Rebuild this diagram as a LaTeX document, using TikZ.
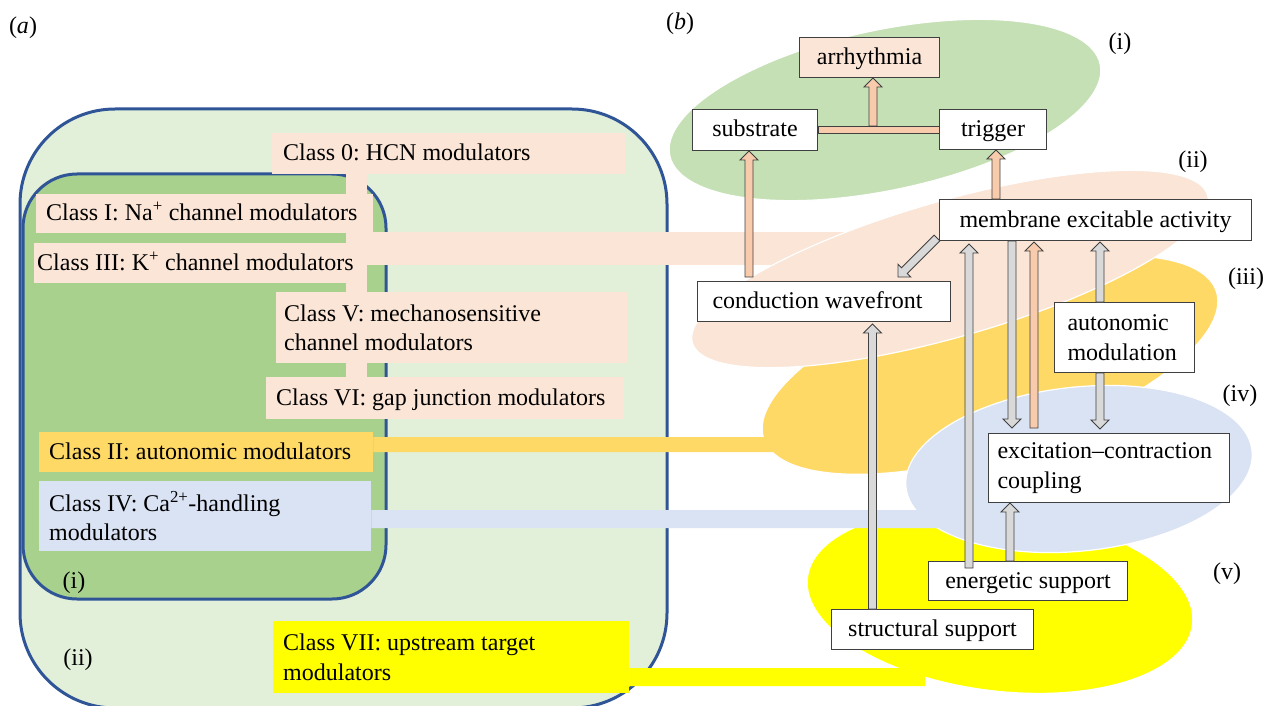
\documentclass[tikz,border=0pt]{standalone}
\usepackage{fontspec}
\setmainfont{Liberation Serif}
\usetikzlibrary{calc,backgrounds}
\frenchspacing

\definecolor{edgeblue}{HTML}{2F5597}
\definecolor{outergreen}{HTML}{E2F0D9}
\definecolor{innergreen}{HTML}{A9D18E}
\definecolor{boxpeach}{HTML}{FBE5D6}
\definecolor{boxgold}{HTML}{FFD966}
\definecolor{boxblue}{HTML}{DAE3F3}
\definecolor{boxyellow}{HTML}{FFFF00}
\definecolor{ellgreen}{HTML}{C5E0B4}
\definecolor{arrowpeach}{HTML}{F8CBAD}
\definecolor{arrowgray}{HTML}{D9D9D9}
\definecolor{edgegray}{HTML}{404040}

\tikzset{
  classbox/.style={anchor=north west, inner ysep=0pt, inner xsep=10pt, align=flush left},
  procbox/.style={anchor=north west, draw=edgegray, line width=1pt, fill=white, inner sep=0pt},
  oneline/.style={text height=18pt, text depth=4pt},
  region/.style={draw=white, line width=1.2pt},
  grayarrow/.style={fill=arrowgray, draw=edgegray, line width=0.9pt},
  peacharrow/.style={fill=arrowpeach, draw=edgegray, line width=0.9pt},
  lbl/.style={inner sep=0pt}
}

% fat arrow from #2 to #3
\newcommand{\blockarrow}[3][grayarrow]{%
  \path (#2) coordinate (ba-s) (#3) coordinate (ba-t);
  \path ($(ba-t)!9pt!(ba-s)$) coordinate (ba-h);
  \filldraw[#1] ($(ba-s)!4pt!90:(ba-t)$) -- ($(ba-h)!4pt!90:(ba-t)$)
    -- ($(ba-h)!9pt!90:(ba-t)$) -- (ba-t) -- ($(ba-h)!9pt!-90:(ba-t)$)
    -- ($(ba-h)!4pt!-90:(ba-t)$) -- ($(ba-s)!4pt!-90:(ba-t)$) -- cycle;
}

\begin{document}
\begin{tikzpicture}[x=1pt, y=-1pt, every node/.style={font=\fontsize{24}{29.5}\selectfont}]
	\useasboundingbox (0,0) rectangle (1267,706);

	% (a) drug classes
	\node[classbox, oneline, fill=boxpeach, inner xsep=11pt, text width=331pt, minimum height=41pt] (c0) at (272,133) {Class 0: HCN modulators};
	\node[classbox, oneline, fill=boxpeach, text width=317pt, minimum height=39pt] (c1) at (36,194) {Class I: Na\textsuperscript{+} channel modulators};
	\node[classbox, oneline, fill=boxpeach, inner xsep=3pt, text width=327pt, minimum height=40pt] (c3) at (34,243) {Class III: K\textsuperscript{+} channel modulators};
	\node[classbox, fill=boxpeach, inner xsep=8pt, text width=335pt, minimum height=71pt] (c5) at (276,292) {Class V: mechanosensitive\\channel modulators};
	\node[classbox, oneline, fill=boxpeach, text width=338pt, minimum height=42pt] (c6) at (266,377) {Class VI: gap junction modulators};
	\node[classbox, oneline, fill=boxgold, text width=314pt, minimum height=40pt] (c2) at (39,432) {Class II: autonomic modulators};
	\node[classbox, fill=boxblue, text width=312pt, minimum height=70pt] (c4) at (39,481) {Class IV: Ca\textsuperscript{2+}-handling\\modulators};
	\node[classbox, fill=boxyellow, text width=336pt, minimum height=72pt] (c7) at (273,621) {Class VII: upstream target\\modulators};

	\coordinate (strip) at (356.5,0);
	\coordinate (peachend) at (880,248.5);
	\coordinate (goldend) at (830,444.5);
	\coordinate (blueend) at (945,519);
	\coordinate (yellowend) at (925,677);

	\begin{scope}[on background layer]
		\draw[edgeblue, line width=3pt, fill=outergreen, rounded corners=95pt] (20,109) rectangle (667,708);
		\draw[edgeblue, line width=3pt, fill=innergreen, rounded corners=54pt] (23,174) rectangle (386,599);
		\draw[boxpeach, line width=21pt] (c0.south -| strip) -- (c6.north -| strip);
		\draw[boxpeach, line width=33pt] ($(c3.north east)+(0,5.5)$) -- (peachend);
	\end{scope}

	% (b) regions
	\filldraw[region, fill=ellgreen, rotate around={12:(885,110)}] (885,110) ellipse [x radius=220, y radius=80];
	\filldraw[region, fill=boxgold, rotate around={18:(990,365)}] (990,365) ellipse [x radius=238, y radius=85];
	\filldraw[region, fill=boxpeach, rotate around={16:(950,269)}] (950,269) ellipse [x radius=268, y radius=68];
	\filldraw[region, fill=boxyellow, rotate around={-7:(1000,601)}] (1000,601) ellipse [x radius=194, y radius=90];
	\filldraw[region, fill=boxblue, rotate around={6:(1079,469)}] (1079,469) ellipse [x radius=174, y radius=82];

	\draw[boxgold, line width=15pt] ($(c2.east)+(0,-7.5)$) -- (goldend);
	\draw[boxblue, line width=18pt] ($(c4.east)+(0,3)$) -- (blueend);
	\draw[boxyellow, line width=18pt] ($(c7.east)+(0,20)$) -- (yellowend);

	% (b) processes
	\node[procbox, oneline, fill=boxpeach, minimum width=140pt, minimum height=40pt] (arr) at (799,37) {arrhythmia};
	\node[procbox, oneline, minimum width=125pt, minimum height=41pt] (sub) at (692,109) {substrate};
	\node[procbox, oneline, minimum width=107pt, minimum height=40pt] (trig) at (939,109) {trigger};
	\node[procbox, oneline, minimum width=312pt, minimum height=41pt] (mem) at (939,199) {membrane excitable activity};
	\node[procbox, oneline, inner xsep=15pt, text width=223pt, align=flush left, minimum height=40pt] (cond) at (697,281) {conduction wavefront};
	\node[procbox, inner xsep=13pt, text width=114pt, align=flush left, minimum height=70pt] (autmod) at (1054,302) {autonomic\\modulation};
	\node[procbox, inner xsep=9pt, text width=223pt, align=flush left, minimum height=69pt] (exc) at (988,433) {excitation--contraction\\coupling};
	\node[procbox, oneline, minimum width=199pt, minimum height=39pt] (ener) at (928,561) {energetic support};
	\node[procbox, oneline, minimum width=202pt, minimum height=40pt] (struc) at (831,609) {structural support};

	\draw[peacharrow] ($(sub.east)+(0,-4)$) rectangle ($(trig.west)+(0,4)$);
	\coordinate (tee) at (873,126);
	\blockarrow[peacharrow]{tee}{tee |- arr.south}
	\blockarrow[peacharrow]{$(sub.south |- cond.north)+(-6,-4)$}{$(sub.south)+(-6,0)$}
	\blockarrow[peacharrow]{$(trig.south |- mem.north)+(3,0)$}{$(trig.south)+(3,0)$}
	\blockarrow{$(mem.south west)+(-2,-3)$}{$(cond.north east)+(-53,-4)$}
	\blockarrow{$(struc.north)+(-60,0)$}{$(struc.north |- cond.south)+(-60,2)$}
	\blockarrow{$(ener.north west)+(41,7)$}{$(ener.north west |- mem.south)+(41,3)$}
	\blockarrow{$(ener.north west)+(82,0)$}{$(ener.north west |- exc.south)+(82,0)$}
	\blockarrow{$(mem.south west)+(73,0)$}{$(mem.south west |- exc.north)+(73,-5)$}
	\blockarrow[peacharrow]{$(exc.north west)+(46,-5)$}{$(exc.north west |- mem.south)+(46,1)$}
	\blockarrow{$(autmod.north west)+(46,0)$}{$(autmod.north west |- mem.south)+(46,1)$}
	\blockarrow{$(autmod.south west)+(46,0)$}{$(autmod.south west |- exc.north)+(46,-4)$}

	% panel labels
	\node[lbl] (lbla) at (23,28) {(\textit{a})};
	\node[lbl] (lblb) at (680,24) {(\textit{b})};
	\node[lbl] (ai) at (74,583) {(i)};
	\node[lbl] (aii) at (78,660) {(ii)};
	\node[lbl] (bi) at (1120,44) {(i)};
	\node[lbl] (bii) at (1193,162) {(ii)};
	\node[lbl] (biii) at (1246,279) {(iii)};
	\node[lbl] (biv) at (1240,396) {(iv)};
	\node[lbl] (bv) at (1227,574) {(v)};
\end{tikzpicture}
\end{document}
